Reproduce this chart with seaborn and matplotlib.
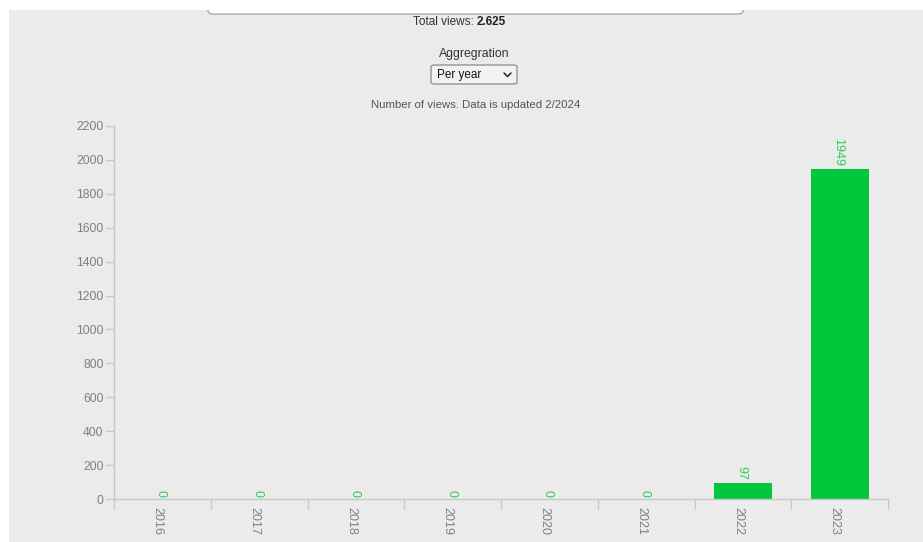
import matplotlib
matplotlib.use("Agg")
import matplotlib.pyplot as plt
from matplotlib.patches import Rectangle, FancyBboxPatch
from matplotlib.lines import Line2D
from matplotlib.transforms import ScaledTranslation
import seaborn as sns
import pandas as pd
import numpy as np

# Views per year
years = ["2016", "2017", "2018", "2019", "2020", "2021", "2022", "2023"]
views = [0, 0, 0, 0, 0, 0, 97, 1949]
y_ticks = [0, 200, 400, 600, 800, 1000, 1200, 1400, 1600, 1800, 2000, 2200]
total_views_label = "2.625"

BAR_GREEN = "#00c73c"
LABEL_GREEN = "#2ecc55"
PANEL = "#ebebeb"
AXIS_GREY = "#c8c8c8"
TICK_TEXT = "#808080"

sns.set_theme(style="white")
plt.rcParams["font.family"] = ["Liberation Sans", "DejaVu Sans"]

W, H = 923, 542
fig = plt.figure(figsize=(W / 100, H / 100), dpi=100)
fig.patch.set_facecolor("white")


def fx(px):
    return px / W


def fy(py):
    return 1 - py / H


# grey page panel
fig.patches.append(Rectangle((fx(9), 0), 1 - fx(9), fy(10), transform=fig.transFigure,
                             facecolor=PANEL, edgecolor="none", zorder=0))
# search box at the top edge
fig.patches.append(FancyBboxPatch((fx(208), fy(14)), fx(743) - fx(208), 0.05,
                                  boxstyle="round,pad=0,rounding_size=0.006",
                                  transform=fig.transFigure, facecolor="white",
                                  edgecolor="#a8a8b0", linewidth=1.0, zorder=1))
fig.patches.append(Rectangle((0, fy(10)), 1, 1 - fy(10), transform=fig.transFigure,
                             facecolor="white", edgecolor="none", zorder=2))

# header texts
fig.text(fx(477), fy(22), "Total views: ", ha="right", va="center", fontsize=8.5, color="#333333")
fig.text(fx(477), fy(22), total_views_label, ha="left", va="center", fontsize=8.5,
         color="#222222", fontweight="bold")
fig.text(fx(474), fy(54), "Aggregration", ha="center", va="center", fontsize=8.8, color="#333333")

# dropdown
fig.patches.append(FancyBboxPatch((fx(431), fy(84)), fx(517) - fx(431), fy(65) - fy(84),
                                  boxstyle="round,pad=0,rounding_size=0.004",
                                  transform=fig.transFigure, facecolor="#f2f2f2",
                                  edgecolor="#8a8a8a", linewidth=0.9, zorder=3))
fig.text(fx(437), fy(75), "Per year", ha="left", va="center", fontsize=8.5, color="#111111", zorder=4)
fig.lines.append(Line2D([fx(504), fx(507.5), fx(511)], [fy(73), fy(76.5), fy(73)],
                        transform=fig.transFigure, color="#222222", linewidth=1.1, zorder=4))

fig.text(fx(476), fy(105), "Number of views. Data is updated 2/2024", ha="center", va="center",
         fontsize=8.2, color="#555555")

# chart
ax = fig.add_axes([fx(114), fy(499), fx(888) - fx(114), fy(126) - fy(499)])
ax.set_zorder(5)
ax.set_facecolor("none")
df = pd.DataFrame({"year": years, "views": views})
sns.barplot(data=df, x="year", y="views", color=BAR_GREEN, saturation=1, width=0.6,
            linewidth=0, ax=ax)

ax.set_xlim(-0.5, len(years) - 0.5)
ax.set_ylim(0, 2200)
ax.set_xlabel("")
ax.set_ylabel("")

for s in ["top", "right"]:
    ax.spines[s].set_visible(False)
for s in ["left", "bottom"]:
    ax.spines[s].set_color(AXIS_GREY)
    ax.spines[s].set_linewidth(1.0)

# y axis
ax.set_yticks(y_ticks)
ax.set_yticklabels([str(v) for v in y_ticks])
ax.tick_params(axis="y", which="major", length=6, width=1, color=AXIS_GREY,
               labelcolor=TICK_TEXT, labelsize=8.8, pad=1.5, left=True)

# x axis: tick marks on band edges, labels at band centres
edges = np.arange(-0.5, len(years) + 0.5, 1.0)
ax.set_xticks(edges)
ax.set_xticklabels([""] * len(edges))
ax.tick_params(axis="x", which="major", length=7, width=1, color=AXIS_GREY, bottom=True)
ax.set_xticks(np.arange(len(years)), minor=True)
ax.set_xticklabels(years, minor=True, rotation=-90, color=TICK_TEXT, fontsize=9)
ax.tick_params(axis="x", which="minor", length=0, pad=5.5)
shift = ScaledTranslation(-0.05, 0, fig.dpi_scale_trans)
for lbl in ax.get_xticklabels(minor=True):
    lbl.set_transform(lbl.get_transform() + shift)

# value labels above bars
for i, v in enumerate(views):
    ax.annotate(str(v), (i, v), xytext=(-1, 1.5), textcoords="offset points",
                ha="center", va="bottom", rotation=-90, color=LABEL_GREEN, fontsize=9,
                annotation_clip=False)

fig.savefig("out.png", dpi=100, facecolor=fig.get_facecolor())
